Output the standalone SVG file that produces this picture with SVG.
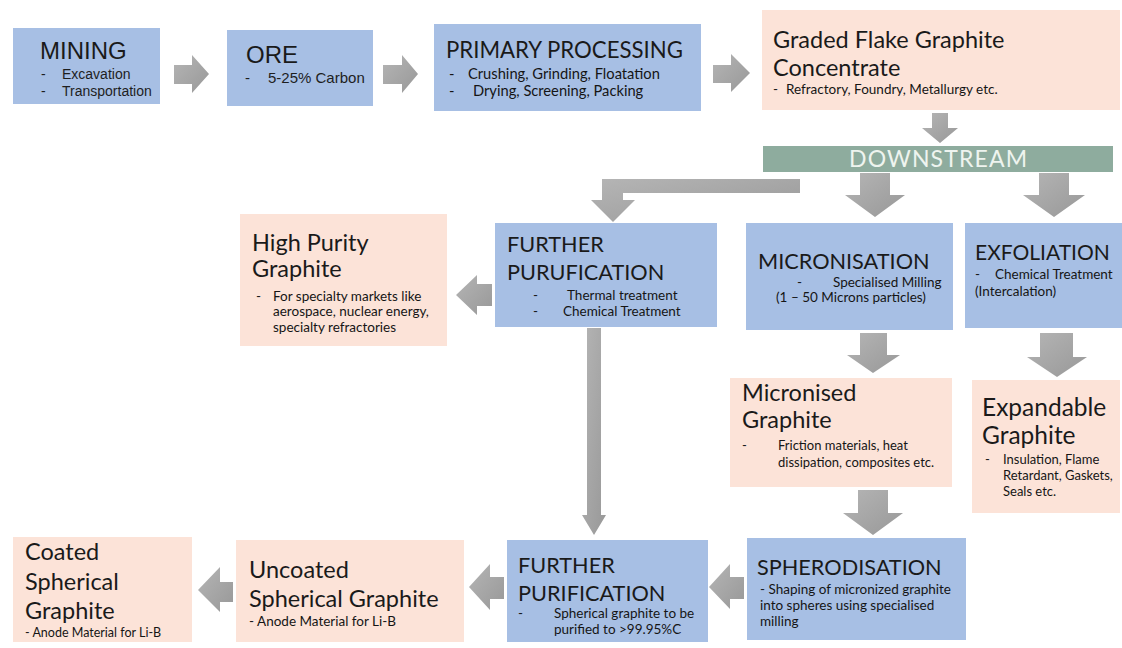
<svg xmlns="http://www.w3.org/2000/svg" width="1122" height="648" viewBox="0 0 1122 648">
<defs>
<linearGradient id="ag" x1="0" y1="0" x2="1" y2="1">
<stop offset="0" stop-color="#b5b5b5"/>
<stop offset="1" stop-color="#989898"/>
</linearGradient>
<style>
.blue{fill:#a7bfe4}
.pink{fill:#fce3d8}
.ds{fill:#8eac9e}
.arr{fill:url(#ag)}
.h{font-family:Lato,"Open Sans",sans-serif;font-size:23.5px;fill:#1a1a1a}
.hc{font-family:Lato,"Open Sans",sans-serif;font-size:21.7px;fill:#1a1a1a}
.s{font-family:Lato,"Open Sans",sans-serif;font-size:13.5px;fill:#151515}
.ha{font-family:"Liberation Sans",Arial,sans-serif;font-size:24px;fill:#1a1a1a}
.sa{font-family:"Liberation Sans",Arial,sans-serif;font-size:14px;fill:#1e1e1e}
.dst{font-family:Lato,"Open Sans",sans-serif;font-size:23px;fill:#eef4ef}
</style>
</defs>
<rect width="1122" height="648" fill="#ffffff"/>

<g id="connectors">
<polygon class="arr" points="174,65 192,65 192,55 209,74 192,93 192,84 174,84"/>
<polygon class="arr" points="383,65 402,65 402,55 418,74 402,93 402,84 383,84"/>
<polygon class="arr" points="713,65 731,65 731,54 750,73 731,92 731,83 713,83"/>
<polygon class="arr" points="932,113 948,113 948,128 958,128 940,143 922,128 932,128"/>
<polygon class="arr" points="800,179 800,193 623,193 623,200 635,200 613,222 591,200 602,200 602,179"/>
<polygon class="arr" points="860,173 890,173 890,195 905,195 875,217 845,195 860,195"/>
<polygon class="arr" points="1039,173 1069,173 1069,195 1085,195 1054,217 1023,195 1039,195"/>
<polygon class="arr" points="492,284 492,306 477,306 477,315 456,295 477,275 477,284"/>
<polygon class="arr" points="860,333 887,333 887,355 900,355 873,373 847,355 860,355"/>
<polygon class="arr" points="1040,333 1073,333 1073,357 1087,357 1057,377 1027,357 1040,357"/>
<polygon class="arr" points="858,490 888,490 888,513 903,513 873,535 843,513 858,513"/>
<polygon class="arr" points="587,328 601,328 601,515 606,515 594,535 582,515 587,515"/>
<polygon class="arr" points="744,577 744,599 730,599 730,609 709,587 730,564 730,577"/>
<polygon class="arr" points="504,577 504,599 490,599 490,610 469,587 490,564 490,577"/>
<polygon class="arr" points="233,582 233,602 220,602 220,612 198,590 220,567 220,582"/>
</g>

<g id="mining">
<rect class="blue" x="13" y="28" width="147" height="76"/>
<text class="ha" x="40" y="59">MINING</text>
<text class="sa" x="41" y="79">-</text><text class="sa" x="62" y="79">Excavation</text>
<text class="sa" x="41" y="96">-</text><text class="sa" x="62" y="96">Transportation</text>
</g>

<g id="ore">
<rect class="blue" x="227" y="30" width="146" height="76"/>
<text class="ha" x="246" y="63">ORE</text>
<text class="sa" x="245" y="83" style="font-size:15px">-</text><text class="sa" x="268" y="83" style="font-size:15px">5-25% Carbon</text>
</g>

<g id="primary">
<rect class="blue" x="434" y="24" width="267" height="87"/>
<text class="hc" x="446" y="58" style="font-size:22.2px">PRIMARY PROCESSING</text>
<text class="s" x="449" y="79" style="font-size:14.7px">-</text><text class="s" x="468" y="79" style="font-size:14.7px">Crushing, Grinding, Floatation</text>
<text class="s" x="449" y="96" style="font-size:14.7px">-</text><text class="s" x="473" y="96" style="font-size:14.7px">Drying, Screening, Packing</text>
</g>

<g id="graded">
<rect class="pink" x="762" y="10" width="358" height="100"/>
<text class="h" x="773" y="48">Graded Flake Graphite</text>
<text class="h" x="773" y="76">Concentrate</text>
<text class="s" x="773" y="94">-</text><text class="s" x="786" y="94">Refractory, Foundry, Metallurgy etc.</text>
</g>

<g id="downstream">
<rect class="ds" x="763" y="146" width="350" height="26"/>
<text class="dst" x="938" y="167" text-anchor="middle" textLength="178" lengthAdjust="spacing">DOWNSTREAM</text>
</g>

<g id="high-purity">
<rect class="pink" x="240" y="214" width="207" height="132"/>
<text class="h" x="252" y="251">High Purity</text>
<text class="h" x="252" y="277">Graphite</text>
<text class="s" x="256" y="301">-</text><text class="s" x="273" y="301">For specialty markets like</text>
<text class="s" x="273" y="316">aerospace, nuclear energy,</text>
<text class="s" x="273" y="332">specialty refractories</text>
</g>

<g id="further-purification-1">
<rect class="blue" x="495" y="223" width="222" height="104"/>
<text class="hc" x="507" y="252">FURTHER</text>
<text class="hc" x="507" y="280">PURUFICATION</text>
<text class="s" x="533" y="300">-</text><text class="s" x="567" y="300">Thermal treatment</text>
<text class="s" x="533" y="316">-</text><text class="s" x="563" y="316">Chemical Treatment</text>
</g>

<g id="micronisation">
<rect class="blue" x="746" y="223" width="207" height="107"/>
<text class="hc" x="758" y="269">MICRONISATION</text>
<text class="s" x="797" y="287">-</text><text class="s" x="833" y="287">Specialised  Milling</text>
<text class="s" x="776" y="302">(1 – 50 Microns particles)</text>
</g>

<g id="exfoliation">
<rect class="blue" x="965" y="223" width="157" height="105"/>
<text class="hc" x="975" y="260" style="font-size:21px">EXFOLIATION</text>
<text class="s" x="975" y="279">-</text><text class="s" x="995" y="279">Chemical Treatment</text>
<text class="s" x="975" y="296">(Intercalation)</text>
</g>

<g id="micronised-graphite">
<rect class="pink" x="730" y="378" width="222" height="109"/>
<text class="h" x="742" y="401">Micronised</text>
<text class="h" x="742" y="428">Graphite</text>
<text class="s" x="742" y="450" style="font-size:13px">-</text><text class="s" x="778" y="450" style="font-size:13px">Friction materials, heat</text>
<text class="s" x="778" y="467" style="font-size:13px">dissipation, composites etc.</text>
</g>

<g id="expandable-graphite">
<rect class="pink" x="972" y="380" width="148" height="133"/>
<text class="h" x="982" y="416" style="font-size:24.5px">Expandable</text>
<text class="h" x="982" y="444" style="font-size:24.5px">Graphite</text>
<text class="s" x="985" y="464" style="font-size:13px">-</text><text class="s" x="1003" y="464" style="font-size:13px">Insulation, Flame</text>
<text class="s" x="1003" y="480" style="font-size:13px">Retardant, Gaskets,</text>
<text class="s" x="1003" y="496" style="font-size:13px">Seals etc.</text>
</g>

<g id="spherodisation">
<rect class="blue" x="747" y="538" width="219" height="102"/>
<text class="hc" x="757" y="575">SPHERODISATION</text>
<text class="s" x="760" y="594">-  Shaping of micronized graphite</text>
<text class="s" x="760" y="610">into spheres using specialised</text>
<text class="s" x="760" y="626">milling</text>
</g>

<g id="further-purification-2">
<rect class="blue" x="507" y="540" width="201" height="102"/>
<text class="hc" x="518" y="573">FURTHER</text>
<text class="hc" x="518" y="601">PURIFICATION</text>
<text class="s" x="518" y="618">-</text><text class="s" x="554" y="618">Spherical graphite to be</text>
<text class="s" x="554" y="634">purified to &gt;99.95%C</text>
</g>

<g id="uncoated">
<rect class="pink" x="236" y="540" width="228" height="102"/>
<text class="h" x="249" y="578">Uncoated</text>
<text class="h" x="249" y="607">Spherical Graphite</text>
<text class="s" x="249" y="626">- Anode Material for Li-B</text>
</g>

<g id="coated">
<rect class="pink" x="13" y="537" width="179" height="105"/>
<text class="h" x="25" y="560">Coated</text>
<text class="h" x="25" y="590">Spherical</text>
<text class="h" x="25" y="619">Graphite</text>
<text class="s" x="25" y="637" style="font-size:12.5px">- Anode Material for Li-B</text>
</g>
</svg>
